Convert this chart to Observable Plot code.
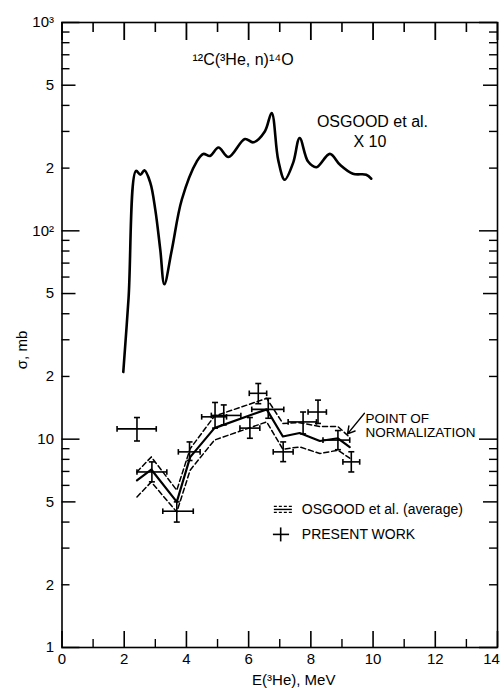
<!DOCTYPE html>
<html><head><meta charset="utf-8">
<script src="https://cdn.jsdelivr.net/npm/d3@7"></script>
<script src="https://cdn.jsdelivr.net/npm/@observablehq/plot@0.6"></script>
<style>body{margin:0;background:#fff}#chart{width:504px;height:688px}</style>
</head><body><div id="chart"></div>
<script>
// Osgood et al. excitation curve (x10)
const curveE = [1.97, 2.14, 2.38, 2.52, 2.65, 2.84, 3.0, 3.16, 3.29, 3.53, 3.85, 4.33, 4.54, 4.76, 5.03, 5.35, 5.88, 6.15, 6.52, 6.74, 6.95, 7.16, 7.43, 7.64, 7.91, 8.18, 8.61, 8.93, 9.35, 9.78, 9.94];
const curveS = [21, 47.6, 194, 186, 195, 170, 126, 81, 55.4, 81, 141, 215, 234, 229, 251, 226, 276, 266, 300, 368, 219, 176, 212, 279, 215, 202, 234, 208, 188, 186, 178];
// Osgood et al. average (solid) and band (dashed)
const avgE    = [2.41, 2.87, 3.69, 4.12, 4.9, 6.58, 7.10, 7.64, 8.29, 8.87, 9.25];
const avgMid  = [6.35, 7.15, 5.0, 8.2, 11.3, 13.9, 10.3, 10.7, 9.8, 10.1, 9.15];
const avgHigh = [6.96, 8.22, 5.69, 9.0, 12.9, 15.7, 11.9, 12.0, 11.5, 11.5, 10.2];
const avgLow  = [5.28, 6.23, 4.47, 7.1, 9.9, 12.1, 8.95, 9.18, 8.53, 8.85, 8.1];
// Present work
const ptE   = [2.41, 2.89, 3.69, 4.10, 4.92, 5.2, 6.04, 6.31, 6.63, 7.11, 7.75, 8.23, 8.87, 9.30];
const ptS   = [11.2, 6.96, 4.51, 8.69, 12.8, 13.0, 11.3, 16.6, 13.9, 8.69, 12.1, 13.5, 9.9, 7.78];
const ptELo = [1.77, 2.41, 3.24, 3.74, 4.49, 4.8, 5.72, 6.02, 6.10, 6.79, 7.27, 7.91, 8.39, 9.03];
const ptEHi = [3.03, 3.37, 4.22, 4.44, 5.29, 5.75, 6.36, 6.58, 7.13, 7.43, 8.18, 8.5, 9.25, 9.57];
const ptSLo = [9.8, 6.24, 4.0, 7.9, 11.3, 11.7, 10.1, 14.8, 12.6, 7.8, 10.6, 11.9, 8.9, 6.96];
const ptSHi = [12.7, 7.78, 5.0, 9.7, 15.0, 14.6, 12.7, 18.5, 15.7, 9.7, 13.5, 15.4, 11.0, 8.7];
// ticks
const xMajor = [0, 2, 4, 6, 8, 10, 12, 14];
const xMinor = [1, 3, 5, 7, 9, 11, 13];
const yDecades = [1, 10, 100, 1000];
const yFives = [5, 50, 500];
const yMinor = [2,3,4,6,7,8,9,20,30,40,60,70,80,90,200,300,400,600,700,800,900];
const yLabelVals = [1, 2, 5, 10, 20, 50, 100, 200, 500, 1000];
const yLabelText = ["1", "2", "5", "10", "2", "5", "10²", "2", "5", "10³"];

const curve = curveE.map((e, i) => ({e, s: curveS[i]}));
const avg = avgE.map((e, i) => ({e, mid: avgMid[i], hi: avgHigh[i], lo: avgLow[i]}));
const pts = ptE.map((e, i) => ({e, s: ptS[i], elo: ptELo[i], ehi: ptEHi[i], slo: ptSLo[i], shi: ptSHi[i]}));
const yLab = new Map(yLabelVals.map((v, i) => [v, yLabelText[i]]));

const hcap = {draw(ctx, size) {const r = Math.sqrt(size / Math.PI); ctx.moveTo(-r, 0); ctx.lineTo(r, 0);}};
const vcap = {draw(ctx, size) {const r = Math.sqrt(size / Math.PI); ctx.moveTo(0, -r); ctx.lineTo(0, r);}};

const W = 504, H = 688, mL = 61.5, mR = 7, mT = 22, mB = 41;
const pw = W - mL - mR, ph = H - mT - mB;
const font = "Liberation Sans, Arial, sans-serif";
const sw = 1.6;
const xLast = xMajor[xMajor.length - 1];

const plot = Plot.plot({
  width: W, height: H,
  marginLeft: mL, marginRight: mR, marginTop: mT, marginBottom: mB,
  x: {domain: [0, 14], axis: null},
  y: {type: "log", domain: [1, 1000], axis: null},
  style: {fontFamily: font, background: "white", color: "black"},
  marks: [
    Plot.frame({stroke: "black", strokeWidth: 1.6}),
    // inward ticks
    Plot.tickX(xMajor, {x: d => d, insetTop: ph - 16, stroke: "black", strokeWidth: 1.6}),
    Plot.tickX(xMinor, {x: d => d, insetTop: ph - 8, stroke: "black", strokeWidth: 1.4}),
    Plot.tickX(xMajor, {x: d => d, insetBottom: ph - 18, stroke: "black", strokeWidth: 1.8}),
    Plot.tickX(xMinor, {x: d => d, insetBottom: ph - 10, stroke: "black", strokeWidth: 1.6}),
    Plot.tickY(yDecades, {y: d => d, insetRight: pw - 18, stroke: "black", strokeWidth: 1.5}),
    Plot.tickY(yFives, {y: d => d, insetRight: pw - 14, stroke: "black", strokeWidth: 1.5}),
    Plot.tickY(yMinor, {y: d => d, insetRight: pw - 8, stroke: "black", strokeWidth: 1.4}),
    Plot.tickY(yDecades, {y: d => d, insetLeft: pw - 18, stroke: "black", strokeWidth: 1.5}),
    Plot.tickY(yFives, {y: d => d, insetLeft: pw - 14, stroke: "black", strokeWidth: 1.5}),
    Plot.tickY(yMinor, {y: d => d, insetLeft: pw - 8, stroke: "black", strokeWidth: 1.4}),
    // tick labels
    Plot.axisX(xMajor.filter(d => d !== xLast), {tickSize: 0, tickPadding: 6, fontSize: 15, tickFormat: d => String(d), label: null}),
    Plot.axisX([xLast], {tickSize: 0, tickPadding: 6, fontSize: 15, dx: -6, tickFormat: d => String(d), label: null}),
    Plot.axisY(yLabelVals, {tickSize: 0, tickPadding: 8, fontSize: 15, tickFormat: d => yLab.get(d), label: null}),
    // Osgood curve x10
    Plot.line(curve, {x: "e", y: "s", curve: "catmull-rom", stroke: "black", strokeWidth: 2.6}),
    // Osgood average
    Plot.line(avg, {x: "e", y: "hi", stroke: "black", strokeWidth: 1.5, strokeDasharray: "5,3"}),
    Plot.line(avg, {x: "e", y: "lo", stroke: "black", strokeWidth: 1.5, strokeDasharray: "5,3"}),
    Plot.line(avg, {x: "e", y: "mid", stroke: "black", strokeWidth: 2.2}),
    // present work
    Plot.link(pts, {x1: "elo", x2: "ehi", y1: "s", y2: "s", stroke: "black", strokeWidth: sw}),
    Plot.link(pts, {x1: "e", x2: "e", y1: "slo", y2: "shi", stroke: "black", strokeWidth: sw}),
    Plot.dot(pts, {x: "elo", y: "s", symbol: vcap, r: 2.8, stroke: "black", strokeWidth: sw}),
    Plot.dot(pts, {x: "ehi", y: "s", symbol: vcap, r: 2.8, stroke: "black", strokeWidth: sw}),
    Plot.dot(pts, {x: "e", y: "slo", symbol: hcap, r: 3, stroke: "black", strokeWidth: sw}),
    Plot.dot(pts, {x: "e", y: "shi", symbol: hcap, r: 3, stroke: "black", strokeWidth: sw}),
    // annotations
    Plot.text(["¹²C(³He, n)¹⁴O"], {x: 5.82, y: 664, text: d => d, fontSize: 16, fill: "black"}),
    Plot.text(["OSGOOD et al."], {x: 9.98, y: 334, text: d => d, fontSize: 16, fill: "black"}),
    Plot.text(["X 10"], {x: 9.9, y: 268, text: d => d, fontSize: 16, fill: "black"}),
    Plot.text(["POINT OF"], {x: 9.76, y: 12.6, text: d => d, fontSize: 13.5, textAnchor: "start", fill: "black"}),
    Plot.text(["NORMALIZATION"], {x: 9.76, y: 10.75, text: d => d, fontSize: 13.5, textAnchor: "start", fill: "black"}),
    Plot.arrow([0], {x1: 9.72, y1: 13.3, x2: 9.18, y2: 10.6, stroke: "black", strokeWidth: 1.5, headLength: 8}),
    // legend
    Plot.link([0], {x1: 6.81, x2: 7.39, y1: 4.6, y2: 4.6, dy: -3, stroke: "black", strokeWidth: 1.2, strokeDasharray: "3,2"}),
    Plot.link([0], {x1: 6.81, x2: 7.39, y1: 4.6, y2: 4.6, stroke: "black", strokeWidth: 1.4}),
    Plot.link([0], {x1: 6.81, x2: 7.39, y1: 4.6, y2: 4.6, dy: 3, stroke: "black", strokeWidth: 1.2, strokeDasharray: "3,2"}),
    Plot.text(["OSGOOD et al. (average)"], {x: 7.71, y: 4.6, text: d => d, fontSize: 14, textAnchor: "start", fill: "black"}),
    Plot.link([0], {x1: 6.78, x2: 7.3, y1: 3.49, y2: 3.49, stroke: "black", strokeWidth: sw}),
    Plot.link([0], {x1: 7.03, x2: 7.03, y1: 3.23, y2: 3.77, stroke: "black", strokeWidth: sw}),
    Plot.text(["PRESENT WORK"], {x: 7.71, y: 3.49, text: d => d, fontSize: 14, textAnchor: "start", fill: "black"}),
    // axis titles
    Plot.text(["E(³He), MeV"], {x: 7.45, y: 0.694, text: d => d, fontSize: 15, fill: "black"}),
    Plot.text(["σ, mb"], {x: -1.27, y: 26.8, text: d => d, fontSize: 15, rotate: -90, fill: "black"})
  ]
});
document.getElementById("chart").appendChild(plot);
</script></body></html>
